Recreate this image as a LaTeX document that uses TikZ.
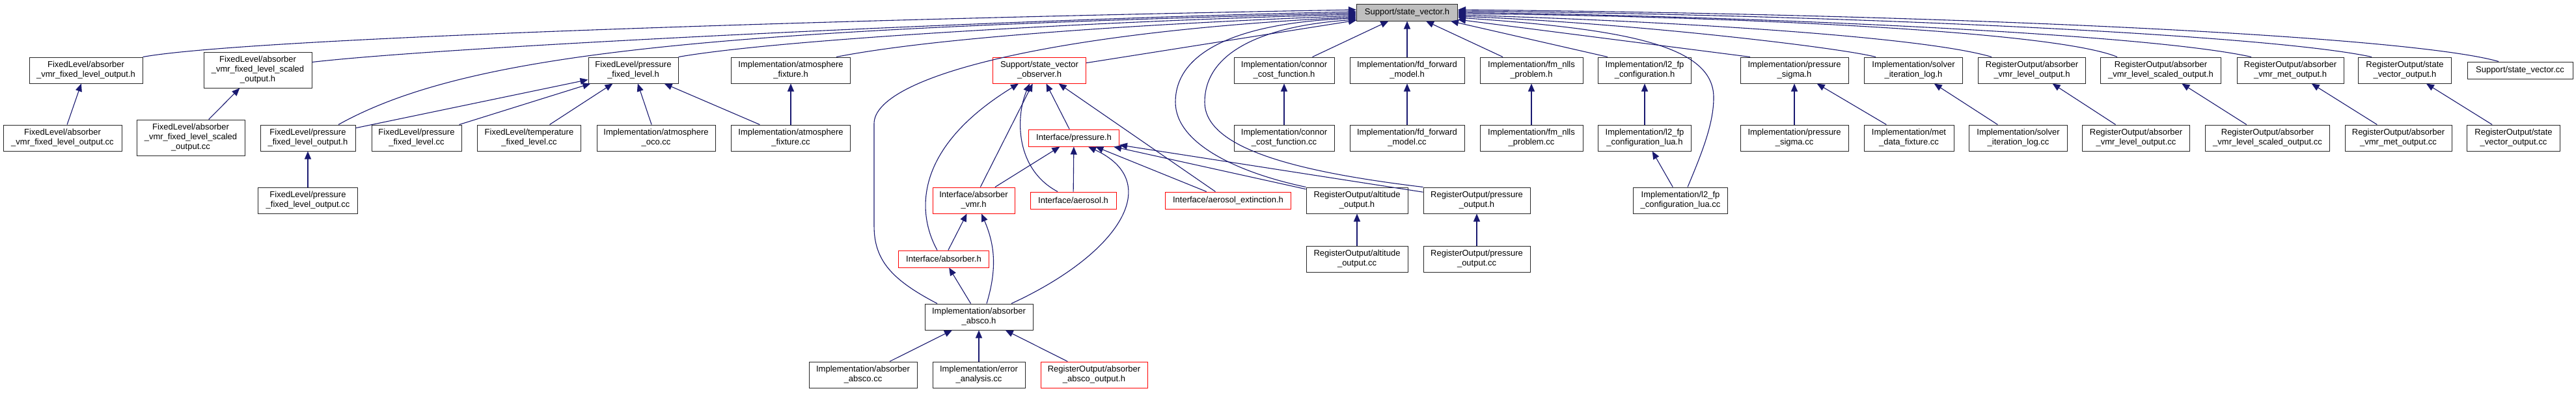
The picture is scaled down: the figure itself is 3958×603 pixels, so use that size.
\documentclass[tikz,border=0pt]{standalone}
\usepackage{fontspec}
\setmainfont{Liberation Sans}
\usetikzlibrary{arrows.meta}
\definecolor{edge}{RGB}{25,25,112}
\definecolor{rootfill}{RGB}{191,191,191}
\newcommand{\dgfont}{\fontsize{13}{15}\selectfont}
\tikzset{
  n/.style={draw=black!85, line width=1pt, fill=white, align=center, font=\dgfont, inner sep=0pt, minimum height=40pt},
  nr/.style={n, draw=red},
  ng/.style={n, fill=rootfill},
  one/.style={minimum height=26pt},
  tri/.style={minimum height=55pt},
  a/.style={-{Triangle[length=12pt, width=10pt]}, draw=edge, line width=1.1pt},
}

\begin{document}
\begin{tikzpicture}[x=1pt, y=1pt]
\path[fill=white, use as bounding box] (0,0) rectangle (3958,-603);

% the header everything depends on
\node[ng, one, minimum width=155pt] (root) at (2162,-19) {Support/state\_vector.h};

% first row
\node[n, minimum width=174pt] (flabs) at (132,-108) {FixedLevel/absorber\\\_vmr\_fixed\_level\_output.h};
\node[n, tri, minimum width=166pt] (flabssc) at (396,-107.5) {FixedLevel/absorber\\\_vmr\_fixed\_level\_scaled\\\_output.h};
\node[n, minimum width=138pt] (flp) at (973,-108) {FixedLevel/pressure\\\_fixed\_level.h};
\node[n, minimum width=183pt] (atmfix) at (1215,-108) {Implementation/atmosphere\\\_fixture.h};
\node[nr, minimum width=143pt] (obs) at (1597,-108) {Support/state\_vector\\\_observer.h};
\node[n, minimum width=154pt] (connor) at (1973,-108) {Implementation/connor\\\_cost\_function.h};
\node[n, minimum width=176pt] (fd) at (2162,-108) {Implementation/fd\_forward\\\_model.h};
\node[n, minimum width=158pt] (fm) at (2353,-108) {Implementation/fm\_nlls\\\_problem.h};
\node[n, minimum width=143pt] (lfp) at (2527,-108) {Implementation/l2\_fp\\\_configuration.h};
\node[n, minimum width=166pt] (psig) at (2757,-108) {Implementation/pressure\\\_sigma.h};
\node[n, minimum width=151pt] (solver) at (2940,-108) {Implementation/solver\\\_iteration\_log.h};
\node[n, minimum width=165pt] (rovmr) at (3122,-108) {RegisterOutput/absorber\\\_vmr\_level\_output.h};
\node[n, minimum width=185pt] (rovmrsc) at (3320,-108) {RegisterOutput/absorber\\\_vmr\_level\_scaled\_output.h};
\node[n, minimum width=164pt] (romet) at (3519,-108) {RegisterOutput/absorber\\\_vmr\_met\_output.h};
\node[n, minimum width=143pt] (rosv) at (3695,-108) {RegisterOutput/state\\\_vector\_output.h};
\node[n, one, minimum width=162pt] (svcc) at (3872,-108) {Support/state\_vector.cc};

% second row
\node[n, minimum width=182pt] (flabscc) at (96,-212) {FixedLevel/absorber\\\_vmr\_fixed\_level\_output.cc};
\node[n, tri, minimum width=166pt] (flabssccc) at (293,-211.5) {FixedLevel/absorber\\\_vmr\_fixed\_level\_scaled\\\_output.cc};
\node[n, minimum width=146pt] (flpout) at (473,-212) {FixedLevel/pressure\\\_fixed\_level\_output.h};
\node[n, minimum width=138pt] (flpcc) at (640,-212) {FixedLevel/pressure\\\_fixed\_level.cc};
\node[n, minimum width=159pt] (fltcc) at (813,-212) {FixedLevel/temperature\\\_fixed\_level.cc};
\node[n, minimum width=182pt] (atmoco) at (1008,-212) {Implementation/atmosphere\\\_oco.cc};
\node[n, minimum width=183pt] (atmfixcc) at (1215,-212) {Implementation/atmosphere\\\_fixture.cc};
\node[nr, one, minimum width=139pt] (pres) at (1650,-212) {Interface/pressure.h};
\node[n, minimum width=154pt] (connorcc) at (1973,-212) {Implementation/connor\\\_cost\_function.cc};
\node[n, minimum width=176pt] (fdcc) at (2162,-212) {Implementation/fd\_forward\\\_model.cc};
\node[n, minimum width=158pt] (fmcc) at (2353,-212) {Implementation/fm\_nlls\\\_problem.cc};
\node[n, minimum width=143pt] (lfplua) at (2527,-212) {Implementation/l2\_fp\\\_configuration\_lua.h};
\node[n, minimum width=166pt] (psigcc) at (2757,-212) {Implementation/pressure\\\_sigma.cc};
\node[n, minimum width=138pt] (metcc) at (2933,-212) {Implementation/met\\\_data\_fixture.cc};
\node[n, minimum width=151pt] (solvercc) at (3101,-212) {Implementation/solver\\\_iteration\_log.cc};
\node[n, minimum width=165pt] (rovmrcc) at (3282,-212) {RegisterOutput/absorber\\\_vmr\_level\_output.cc};
\node[n, minimum width=191pt] (rovmrsccc) at (3484,-212) {RegisterOutput/absorber\\\_vmr\_level\_scaled\_output.cc};
\node[n, minimum width=164pt] (rometcc) at (3685,-212) {RegisterOutput/absorber\\\_vmr\_met\_output.cc};
\node[n, minimum width=143pt] (rosvcc) at (3862,-212) {RegisterOutput/state\\\_vector\_output.cc};

% lower rows
\node[n, minimum width=153pt] (flpoutcc) at (473,-308) {FixedLevel/pressure\\\_fixed\_level\_output.cc};
\node[nr, minimum width=126pt] (absvmr) at (1496,-308) {Interface/absorber\\\_vmr.h};
\node[nr, one, minimum width=132pt] (aer) at (1649,-308) {Interface/aerosol.h};
\node[nr, one, minimum width=193pt] (aerext) at (1887,-308) {Interface/aerosol\_extinction.h};
\node[n, minimum width=156pt] (roalt) at (2085,-308) {RegisterOutput/altitude\\\_output.h};
\node[n, minimum width=164pt] (ropres) at (2269,-308) {RegisterOutput/pressure\\\_output.h};
\node[n, minimum width=145pt] (lfpluacc) at (2582,-308) {Implementation/l2\_fp\\\_configuration\_lua.cc};
\node[nr, one, minimum width=139pt] (absorber) at (1450,-398) {Interface/absorber.h};
\node[n, minimum width=156pt] (roaltcc) at (2085,-398) {RegisterOutput/altitude\\\_output.cc};
\node[n, minimum width=164pt] (ropresscc) at (2269,-398) {RegisterOutput/pressure\\\_output.cc};
\node[n, minimum width=166pt] (absco) at (1504,-487) {Implementation/absorber\\\_absco.h};
\node[n, minimum width=166pt] (abscocc) at (1326,-576) {Implementation/absorber\\\_absco.cc};
\node[n, minimum width=142pt] (errcc) at (1504,-576) {Implementation/error\\\_analysis.cc};
\node[nr, minimum width=164pt] (roabsco) at (1681,-576) {RegisterOutput/absorber\\\_absco\_output.h};

% into the root from the left
\draw[a] (flabs.north east) .. controls (400,-55) and (1500,-25) .. ([yshift=4]root.west);
\draw[a] ([yshift=-16]flabssc.north east) .. controls (700,-70) and (1600,-28) .. ([yshift=1]root.west);
\draw[a] ([xshift=47]flpout.north) .. controls (720,-80) and (1100,-45) .. ([yshift=-1]root.west);
\draw[a] (flp.north east) .. controls (1200,-60) and (1700,-32) .. ([yshift=-3]root.west);
\draw[a] ([xshift=70]atmfix.north) .. controls (1450,-55) and (1800,-35) .. ([yshift=-5]root.west);
\draw[a] ([xshift=-64]absco.north) .. controls (1370,-430) and (1343,-400) .. (1343,-347) -- (1343,-190) .. controls (1343,-120) and (1600,-50) .. ([yshift=-7]root.west);
\draw[a] (obs) -- (root);
\draw[a] (roalt.north west) .. controls (1900,-265) and (1806,-220) .. (1806,-157) .. controls (1806,-80) and (1900,-35) .. ([yshift=-9]root.west);
\draw[a] (ropres.north west) .. controls (2000,-265) and (1851,-230) .. (1851,-157) .. controls (1851,-80) and (1940,-40) .. ([yshift=-11]root.west);

% into the root from below
\draw[a] (connor) -- (root);
\draw[a] (fd) -- (root);
\draw[a] (fm) -- (root);
\draw[a] ([xshift=-57]lfp.north) -- ([xshift=67]root.south);
\draw[a] ([xshift=-68]psig.north) -- ([yshift=-11]root.east);
\draw[a] ([xshift=11]lfpluacc.north) .. controls (2615,-235) and (2633,-190) .. (2633,-150) .. controls (2633,-70) and (2500,-45) .. ([yshift=-8]root.east);

% into the root from the right
\draw[a] ([xshift=-58]solver.north) .. controls (2820,-72) and (2500,-35) .. ([yshift=-6]root.east);
\draw[a] ([xshift=-62]rovmr.north) .. controls (2950,-55) and (2550,-32) .. ([yshift=-4]root.east);
\draw[a] ([xshift=-67]rovmrsc.north) .. controls (3150,-45) and (2600,-24) .. ([yshift=-2]root.east);
\draw[a] ([xshift=-60]romet.north) .. controls (3300,-52) and (2700,-25) .. (root.east);
\draw[a] ([xshift=-51]rosv.north) .. controls (3480,-52) and (2800,-22) .. ([yshift=2]root.east);
\draw[a] ([xshift=-33]svcc.north) .. controls (3700,-55) and (3000,-22) .. ([yshift=4]root.east);

% FixedLevel and atmosphere
\draw[a] (flabscc) -- (flabs);
\draw[a] (flabssccc) -- (flabssc);
\draw[a] (flpoutcc) -- (flpout);
\draw[a] (flpout) -- (flp);
\draw[a] (flpcc) -- (flp);
\draw[a] (fltcc) -- (flp);
\draw[a] (atmoco) -- (flp);
\draw[a] (atmfixcc) -- (flp);
\draw[a] (atmfixcc) -- (atmfix);

% header / source pairs
\draw[a] (connorcc) -- (connor);
\draw[a] (fdcc) -- (fd);
\draw[a] (fmcc) -- (fm);
\draw[a] (lfplua) -- (lfp);
\draw[a] (lfpluacc) -- (lfplua);
\draw[a] (psigcc) -- (psig);
\draw[a] (metcc) -- (psig);
\draw[a] (solvercc) -- (solver);
\draw[a] (rovmrcc) -- (rovmr);
\draw[a] (rovmrsccc) -- (rovmrsc);
\draw[a] (rometcc) -- (romet);
\draw[a] (rosvcc) -- (rosv);
\draw[a] (roaltcc) -- (roalt);
\draw[a] (ropresscc) -- (ropres);

% observer and interfaces
\draw[a] (pres) -- (obs);
\draw[a] (absvmr) -- (obs);
\draw[a] ([xshift=-24]aer.north) .. controls (1560,-260) and (1560,-180) .. ([xshift=-15]obs.south);
\draw[a] ([xshift=-10]absorber.north) .. controls (1410,-330) and (1400,-230) .. ([xshift=-32]obs.south);
\draw[a] (aerext) -- (obs);
\draw[a] (absvmr) -- (pres);
\draw[a] (aer) -- (pres);
\draw[a] (aerext) -- (pres);
\draw[a] (roalt) -- (pres);
\draw[a] (ropres) -- (pres);
\draw[a] ([xshift=50]absco.north) .. controls (1720,-390) and (1790,-280) .. ([xshift=22]pres.south);
\draw[a] (absorber) -- (absvmr);
\draw[a] ([xshift=12]absco.north) to[bend right=20] ([xshift=12]absvmr.south);
\draw[a] (absco) -- (absorber);
\draw[a] (abscocc) -- (absco);
\draw[a] (errcc) -- (absco);
\draw[a] (roabsco) -- (absco);
\end{tikzpicture}
\end{document}
